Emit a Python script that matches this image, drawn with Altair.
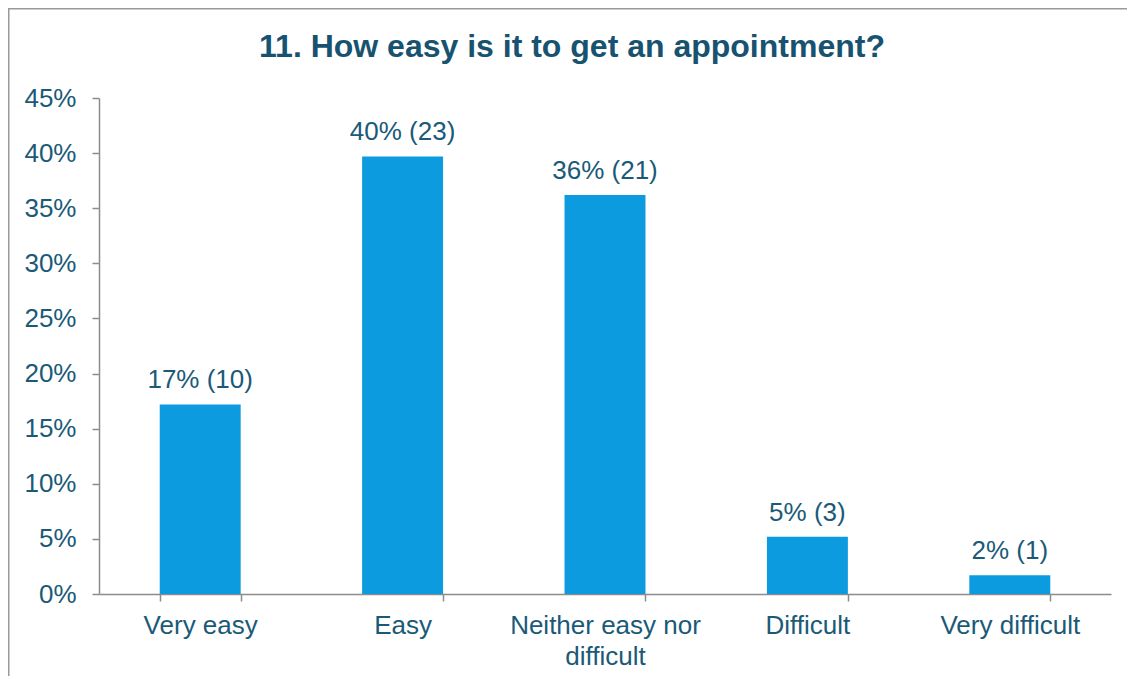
import altair as alt
import pandas as pd

categories = ["Very easy", "Easy", "Neither easy nor difficult", "Difficult", "Very difficult"]
percents = [17.2, 39.7, 36.2, 5.2, 1.7]
counts = [10, 23, 21, 3, 1]
labels = ["17% (10)", "40% (23)", "36% (21)", "5% (3)", "2% (1)"]
y_ticks = [0, 5, 10, 15, 20, 25, 30, 35, 40, 45]
title_text = "11. How easy is it to get an appointment?"

df = pd.DataFrame({"category": categories, "percent": percents, "count": counts, "label": labels})

FONT = "Liberation Sans"
TEXT = "#1A5A78"
TITLE_C = "#175370"
AXIS_C = "#8C8C8C"
BAR = "#0D9BDF"
FS = 26

x = alt.X(
    "category:N",
    sort=categories,
    scale=alt.Scale(paddingInner=0.6, paddingOuter=0.3),
    axis=alt.Axis(
        title=None, labelAngle=0, labelFontSize=FS, labelColor=TEXT, labelFont=FONT,
        tickBand="extent", tickSize=7, tickColor=AXIS_C, tickWidth=1.5,
        domainColor=AXIS_C, domainWidth=1.5, labelPadding=11, labelLineHeight=31,
        labelLimit=500, labelOverlap=False,
        labelExpr="datum.value == 'Neither easy nor difficult' ? ['Neither easy nor', 'difficult'] : datum.value",
    ),
)
y = alt.Y(
    "percent:Q",
    scale=alt.Scale(domain=[0, 45]),
    axis=alt.Axis(
        title=None, values=y_ticks, labelExpr="datum.value + '%'", labelFontSize=FS,
        labelColor=TEXT, labelFont=FONT, tickSize=7, tickColor=AXIS_C, tickWidth=1.5,
        domainColor=AXIS_C, domainWidth=1.5, labelPadding=16, grid=False,
    ),
)

base = alt.Chart(df)
bars = base.mark_bar(color=BAR).encode(x=x, y=y)
text = base.mark_text(
    font=FONT, fontSize=FS, color=TEXT, baseline="alphabetic", dy=-16
).encode(x=alt.X("category:N", sort=categories), y="percent:Q", text="label:N")

one = pd.DataFrame({"t": [title_text]})
frame = alt.Chart(one).mark_rect(
    fillOpacity=0, stroke="#999999", strokeWidth=1.5
).encode(
    x=alt.value(-90.25), x2=alt.value(1200), y=alt.value(-89.25), y2=alt.value(700)
)
title = alt.Chart(one).mark_text(
    font=FONT, fontSize=32, fontWeight="bold", color=TITLE_C, baseline="alphabetic", align="center"
).encode(x=alt.value(473), y=alt.value(-41), text="t:N")

chart = alt.layer(frame, bars, text, title).properties(
    width=1012,
    height=496,
    autosize=alt.AutoSizeParams(type="none"),
    padding={"left": 91, "top": 90, "right": 16, "bottom": 82},
).configure_view(stroke=None)

chart.save("out.html", embed_options={"renderer": "svg", "actions": False})
